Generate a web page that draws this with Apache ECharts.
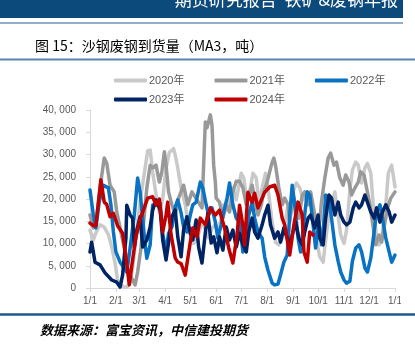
<!DOCTYPE html>
<html>
<head>
<meta charset="utf-8">
<script src="https://cdn.jsdelivr.net/npm/echarts@6/dist/echarts.min.js"></script>
<style>
html,body{margin:0;padding:0;background:#fff;}
#c{width:415px;height:346px;}
</style>
</head>
<body>
<div id="c"></div>
<script>
// ---- data ----
const monthDays = [0,31,59,90,120,151,181,212,243,273,304,334,365];
const monthLabels = ['1/1','2/1','3/1','4/1','5/1','6/1','7/1','8/1','9/1','10/1','11/1','12/1','1/1'];
const seriesNames = ['2020年','2021年','2022年','2023年','2024年'];

const days2020 = [0,4,7,12,17,22,26,30,33,37,41,44,48,51,55,57,61,65,69,72,75,79,83,87,91,95,100,103,105,109,114,117,121,124,128,132,135,139,142,146,150,153,157,160,164,167,171,175,179,181,184,188,191,195,199,202,206,210,213,218,222,226,230,233,237,240,243,247,251,255,259,263,267,271,275,279,282,286,289,293,297,300,304,307,311,314,318,321,325,329,332,336,339,343,346,350,354,357,361,365];
const vals2020 = [13000,10800,12400,14200,13700,12000,9200,5600,1800,700,200,200,1100,4500,11200,14800,20900,25800,30800,31000,26000,21000,17000,20000,27000,30500,31300,29000,27000,22500,18700,15000,11200,10000,11200,13500,14800,12600,11200,13500,14200,12600,15700,18700,17500,19800,22500,19800,23800,25800,24700,19300,21600,25800,24700,19300,22500,25800,22500,14800,10300,9700,11200,14200,18700,16400,21600,23600,22500,19800,21600,20200,16400,10800,7000,5800,10800,16400,18700,21600,16000,12000,10000,13000,22000,26500,28300,27600,23600,27000,28000,25800,18700,11200,9700,12600,18700,25800,27600,22700];

const days2021 = [0,4,7,12,17,20,24,29,32,36,41,45,50,54,57,61,65,68,72,75,79,83,86,89,91,94,98,102,106,112,117,122,128,134,138,140,144,146,148,150,151,155,159,163,167,171,175,179,183,187,190,194,197,201,205,208,212,215,218,220,222,226,230,233,237,239,243,246,250,254,257,261,264,268,271,275,277,281,285,288,292,295,299,303,306,310,313,317,321,324,328,331,335,338,342,346,349,353,356,360,365];
const vals2021 = [16400,13500,14200,22500,29200,28100,23100,21600,17100,13500,9000,4500,2200,700,3600,9000,16400,22500,27600,27000,27600,23800,26100,30600,27600,21600,18700,16400,20200,23100,18700,21600,19800,18000,37300,36000,38900,36600,27600,23800,20200,19300,15700,18700,17100,21600,24000,24000,22500,18700,20200,23100,20200,16400,18700,21600,23800,26100,28300,29200,27600,22500,18700,20200,18700,14800,20900,18700,15700,20900,21600,18700,21600,17500,13500,15000,19300,24700,29200,30300,27600,28300,24700,23100,25400,23800,20900,22500,23800,26100,25400,22500,18700,14800,9700,11900,10300,14800,18000,20200,21600];

const days2022 = [0,4,7,11,16,22,25,28,31,36,41,44,48,53,57,60,63,66,68,72,75,80,84,87,91,94,98,102,105,109,112,116,120,123,127,132,135,139,142,146,150,153,157,160,164,167,171,175,179,183,187,190,194,197,201,206,209,213,218,221,225,228,232,236,239,242,245,249,252,256,260,263,267,270,274,277,279,282,286,289,293,297,300,304,307,311,314,318,322,325,329,332,336,340,343,347,350,354,358,361,365];
const vals2022 = [22000,16400,13500,19300,23100,22500,18700,12600,8100,5800,4500,3600,9000,16400,24700,21500,15700,9700,6700,9700,18600,19000,19000,12300,7900,12300,13700,18200,19800,16900,13700,12600,16400,18700,19300,23800,22500,18700,16400,18000,14800,11200,14200,17100,20200,23600,18700,15700,14800,8100,11200,16400,19300,15700,12600,11200,7000,4000,1100,700,900,2900,5800,7400,16400,23100,18700,11200,8100,14800,21600,20900,14200,9000,14800,9700,12600,20900,20200,15700,9700,6000,3600,1800,1100,1500,6000,9000,9700,8100,4500,3600,6700,12600,17100,18700,15700,11200,8100,5800,7400];

const days2023 = [0,2,6,12,18,26,32,36,39,43,44,48,51,53,56,60,63,68,72,75,79,84,87,91,94,98,102,105,109,112,116,120,123,127,130,134,138,141,145,148,152,155,159,163,167,171,175,179,183,187,190,194,197,201,206,209,213,216,221,225,228,232,236,239,243,246,250,254,257,261,264,269,273,275,279,282,286,289,293,297,300,304,307,311,315,318,322,325,329,332,336,340,343,347,350,354,358,361,365];
const vals2023 = [8100,10300,5800,5200,3400,1800,1300,200,2900,11200,18600,16400,15700,9200,13000,16000,9200,10800,13700,17500,19800,17500,10800,6300,10100,16000,17500,11500,7000,13000,16000,12300,10800,15300,9200,5600,12400,16800,10100,11500,7900,11500,8500,13700,10800,13000,9200,12300,9700,8100,12600,15700,12600,11200,14200,16400,18600,14200,11200,12600,10300,13500,11200,9700,12600,14800,11200,9700,12600,15700,16400,13500,16400,11200,9700,15700,20900,20200,16400,19300,16400,14800,14200,14800,18000,19300,18000,18700,20900,19300,17100,15700,18000,14800,17100,18700,17100,14800,16400];

const days2024 = [0,4,7,13,17,20,24,28,33,39,43,47,50,55,60,63,69,75,79,83,87,91,93,97,102,105,109,114,120,123,128,132,138,144,150,155,161,166,171,176,179,183,185,189,194,197,201,206,209,215,221,225,230,233,237,239,244,249,254,256,260,263,267];
const vals2024 = [14600,14000,14000,24300,19300,18800,16000,16800,14000,12300,7000,700,5000,11500,15500,17000,20200,20500,18600,20000,12600,16400,19300,12000,6700,5800,5500,2900,10300,13500,11500,15700,14200,18000,16400,17500,13500,9000,5600,11900,18600,14000,9700,21500,19300,21300,18000,20200,21500,22700,23100,20900,15700,14200,9700,7400,14200,19300,16400,8100,5800,12600,11900];

const colors = ['#c9c9c9','#999999','#0a72c2','#002363','#c00000'];
const allDays = [days2020,days2021,days2022,days2023,days2024];
const allVals = [vals2020,vals2021,vals2022,vals2023,vals2024];

const pair = (d, v) => d.map((x, i) => [x, v[i]]);
const FONT = '"Liberation Sans", Arial, "Noto Sans CJK SC", sans-serif';
const CJK = '"Noto Sans CJK SC", sans-serif';

const chart = echarts.init(document.getElementById('c'), null, {renderer: 'canvas'});
const legendCommon = {
  left: 109, itemWidth: 33, itemHeight: 4, itemGap: 30, icon: 'roundRect',
  textStyle: {color: '#595959', fontSize: 11, fontFamily: FONT, padding: [0,0,0,-3]}
};
chart.setOption({
  animation: false,
  backgroundColor: '#fff',
  grid: {left: 90, right: 20, top: 110, bottom: 58, containLabel: false},
  legend: [
    Object.assign({}, legendCommon, {top: 70, data: seriesNames.slice(0, 3)}),
    Object.assign({}, legendCommon, {top: 89, data: seriesNames.slice(3)})
  ],
  xAxis: {
    type: 'value', min: 0, max: 365,
    axisLine: {show: true, lineStyle: {color: '#d9d9d9', width: 1}},
    axisTick: {show: true, customValues: monthDays, length: 4, lineStyle: {color: '#d9d9d9'}},
    axisLabel: {
      customValues: monthDays, color: '#595959', fontSize: 10, fontFamily: FONT, margin: 8,
      formatter: v => monthLabels[monthDays.indexOf(Math.round(v))] || ''
    },
    splitLine: {show: false}
  },
  yAxis: {
    type: 'value', min: 0, max: 40000, interval: 5000,
    axisLine: {show: true, lineStyle: {color: '#d9d9d9', width: 1}},
    axisTick: {show: true, length: 4, lineStyle: {color: '#d9d9d9'}},
    axisLabel: {
      color: '#595959', fontSize: 10, fontFamily: FONT, margin: 14,
      formatter: v => v === 0 ? '0' : (v / 1000) + ', 000'
    },
    splitLine: {show: false}
  },
  series: seriesNames.map((name, i) => ({
    name, type: 'line', data: pair(allDays[i], allVals[i]),
    showSymbol: false, symbol: 'none',
    lineStyle: {color: colors[i], width: 3.5, join: 'round', cap: 'round'},
    itemStyle: {color: colors[i]},
    z: 2 + i
  })),
  graphic: [
    {type: 'rect', shape: {x: 0, y: 0, width: 403, height: 18}, style: {fill: '#0d4a7c'}, z: 10},
    {type: 'text', x: 398, y: 0, style: {text: '期货研究报告  铁矿&废钢年报', fill: '#ffffff', font: '17px ' + CJK, textAlign: 'right', textVerticalAlign: 'middle'}, z: 11},
    {type: 'line', shape: {x1: 0, y1: 23, x2: 403, y2: 23}, style: {stroke: '#2a5d8c', lineWidth: 1}, z: 10},
    {type: 'text', x: 35, y: 46, style: {text: '图 15：沙钢废钢到货量（MA3，吨）', fill: '#000000', font: '14px ' + CJK, textAlign: 'left', textVerticalAlign: 'middle'}, z: 10},
    {type: 'line', shape: {x1: 0, y1: 59.5, x2: 415, y2: 59.5}, style: {stroke: '#5585b0', lineWidth: 2}, z: 10},
    {type: 'rect', shape: {x: 401, y: 291, width: 14, height: 18}, style: {fill: '#ffffff'}, z: 20},
    {type: 'line', shape: {x1: 0, y1: 314.5, x2: 415, y2: 314.5}, style: {stroke: '#1c5a8c', lineWidth: 2.5}, z: 10},
    {type: 'text', x: 40, y: 330, style: {text: '数据来源：富宝资讯，中信建投期货', fill: '#000000', font: 'italic bold 13px ' + CJK, textAlign: 'left', textVerticalAlign: 'middle'}, z: 10}
  ]
});
</script>
</body>
</html>
